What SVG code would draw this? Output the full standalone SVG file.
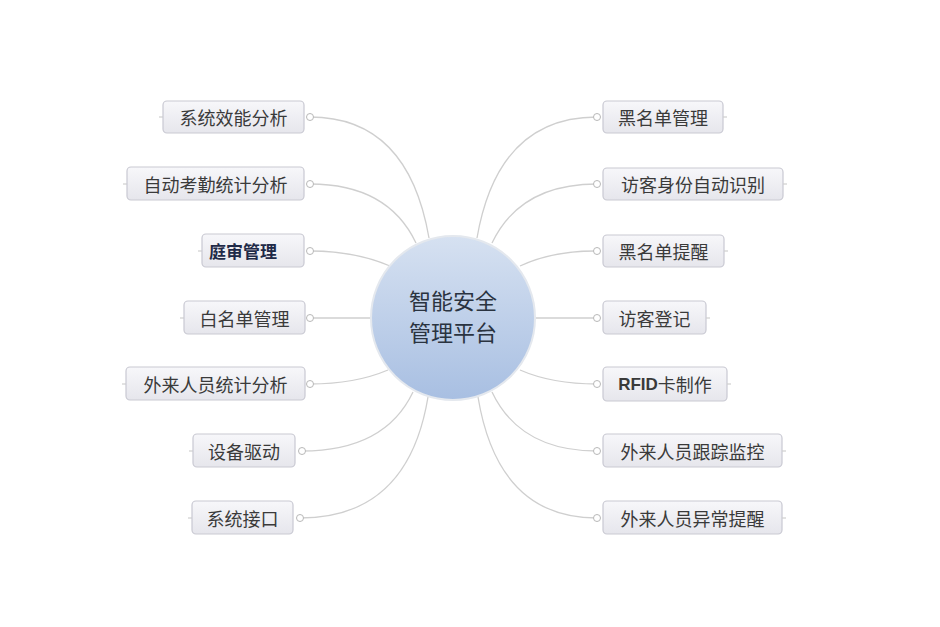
<svg xmlns="http://www.w3.org/2000/svg" width="940" height="627" viewBox="0 0 940 627">
<defs>
<linearGradient id="gCenter" x1="0" y1="0" x2="0" y2="1">
<stop offset="0" stop-color="#d6e1f1"/>
<stop offset="1" stop-color="#a8bfe2"/>
</linearGradient>
<linearGradient id="gNode" x1="0" y1="0" x2="0" y2="1">
<stop offset="0" stop-color="#f7f7fa"/>
<stop offset="1" stop-color="#e6e6ec"/>
</linearGradient>
</defs>
<style>
.bx{fill:url(#gNode);stroke:#c9c9d2;stroke-width:1.2}
.t{font-family:"Noto Sans CJK SC","Noto Sans",sans-serif;font-size:18px;fill:#3a3a3a;text-anchor:middle;dominant-baseline:central}
.tb{font-family:"Noto Sans CJK SC","Noto Sans",sans-serif;font-size:17px;font-weight:bold;fill:#1f2a48;text-anchor:middle;dominant-baseline:central}
.tc{font-family:"Noto Sans CJK SC","Noto Sans",sans-serif;font-size:22px;fill:#2a3340;text-anchor:middle}
.c{fill:none;stroke:#cfcfcf;stroke-width:1.3}
.dot{fill:#fff;stroke:#b8b8b8;stroke-width:1}
.tk{stroke:#cfcfcf;stroke-width:1.2}
</style>
<rect width="940" height="627" fill="#fff"/>
<g id="connectors">
<path class="c" d="M310,117 Q408,117 429,238"/>
<path class="c" d="M310,184 Q388,184 416,243"/>
<path class="c" d="M310,251 Q355,251 390,266"/>
<path class="c" d="M313,318 L371,318"/>
<path class="c" d="M310,384 Q355,384 388,370"/>
<path class="c" d="M302,451 Q385,451 413,392"/>
<path class="c" d="M300,518 Q408,518 428,397"/>
<path class="c" d="M597,117 Q498,117 477,238"/>
<path class="c" d="M597,184 Q520,184 492,243"/>
<path class="c" d="M595,251 Q552,251 520,266"/>
<path class="c" d="M595,318 L536,318"/>
<path class="c" d="M597,384 Q552,384 520,370"/>
<path class="c" d="M597,451 Q520,451 492,392"/>
<path class="c" d="M597,518 Q498,518 478,397"/>
<circle class="dot" cx="310" cy="117" r="3.5"/>
<circle class="dot" cx="310" cy="184" r="3.5"/>
<circle class="dot" cx="310" cy="251" r="3.5"/>
<circle class="dot" cx="310" cy="318" r="3.5"/>
<circle class="dot" cx="310" cy="384" r="3.5"/>
<circle class="dot" cx="302" cy="451" r="3.5"/>
<circle class="dot" cx="300" cy="518" r="3.5"/>
<circle class="dot" cx="597" cy="117" r="3.5"/>
<circle class="dot" cx="597" cy="184" r="3.5"/>
<circle class="dot" cx="597" cy="251" r="3.5"/>
<circle class="dot" cx="597" cy="318" r="3.5"/>
<circle class="dot" cx="597" cy="384" r="3.5"/>
<circle class="dot" cx="597" cy="451" r="3.5"/>
<circle class="dot" cx="597" cy="518" r="3.5"/>
</g>
<g id="center">
<circle cx="453" cy="318" r="82" fill="url(#gCenter)" stroke="#e4e8ee" stroke-width="2"/>
<text class="tc" x="453" y="309">智能安全</text>
<text class="tc" x="453" y="341">管理平台</text>
</g>
<g id="n1"><line class="tk" x1="159" y1="117" x2="163" y2="117"/><rect class="bx" x="163" y="101" width="141" height="32" rx="4"/><text class="t" x="233.5" y="117">系统效能分析</text></g>
<g id="n2"><line class="tk" x1="123" y1="184" x2="127" y2="184"/><rect class="bx" x="127" y="167" width="177" height="33" rx="4"/><text class="t" x="215.5" y="183.5">自动考勤统计分析</text></g>
<g id="n3"><line class="tk" x1="198" y1="251" x2="202" y2="251"/><rect class="bx" x="202" y="234" width="102" height="33" rx="4"/><text class="tb" x="243" y="250.5">庭审管理</text></g>
<g id="n4"><line class="tk" x1="180" y1="318" x2="184" y2="318"/><rect class="bx" x="184" y="301" width="121" height="33" rx="4"/><text class="t" x="244.5" y="317.5">白名单管理</text></g>
<g id="n5"><line class="tk" x1="122" y1="384" x2="126" y2="384"/><rect class="bx" x="126" y="367" width="179" height="33" rx="4"/><text class="t" x="215.5" y="383.5">外来人员统计分析</text></g>
<g id="n6"><line class="tk" x1="189" y1="451" x2="193" y2="451"/><rect class="bx" x="193" y="434" width="102" height="33" rx="4"/><text class="t" x="244" y="450.5">设备驱动</text></g>
<g id="n7"><line class="tk" x1="188" y1="518" x2="192" y2="518"/><rect class="bx" x="192" y="501" width="101" height="33" rx="4"/><text class="t" x="242.5" y="517.5">系统接口</text></g>
<g id="n8"><rect class="bx" x="603" y="101" width="120" height="32" rx="4"/><line class="tk" x1="723" y1="117" x2="727" y2="117"/><text class="t" x="663" y="117">黑名单管理</text></g>
<g id="n9"><rect class="bx" x="603" y="168" width="180" height="32" rx="4"/><line class="tk" x1="783" y1="184" x2="787" y2="184"/><text class="t" x="693" y="184">访客身份自动识别</text></g>
<g id="n10"><rect class="bx" x="603" y="235" width="121" height="32" rx="4"/><line class="tk" x1="724" y1="251" x2="728" y2="251"/><text class="t" x="663.5" y="251">黑名单提醒</text></g>
<g id="n11"><rect class="bx" x="603" y="301" width="103" height="33" rx="4"/><line class="tk" x1="706" y1="318" x2="710" y2="318"/><text class="t" x="654.5" y="317.5">访客登记</text></g>
<g id="n12"><rect class="bx" x="603" y="367" width="124" height="34" rx="4"/><line class="tk" x1="727" y1="384" x2="731" y2="384"/><text class="t" x="665" y="384"><tspan font-family="'Liberation Sans',sans-serif" font-weight="bold" font-size="17">RFID</tspan>卡制作</text></g>
<g id="n13"><rect class="bx" x="603" y="434" width="179" height="33" rx="4"/><line class="tk" x1="782" y1="451" x2="786" y2="451"/><text class="t" x="692.5" y="450.5">外来人员跟踪监控</text></g>
<g id="n14"><rect class="bx" x="603" y="501" width="179" height="33" rx="4"/><line class="tk" x1="782" y1="518" x2="786" y2="518"/><text class="t" x="692.5" y="517.5">外来人员异常提醒</text></g>
</svg>
